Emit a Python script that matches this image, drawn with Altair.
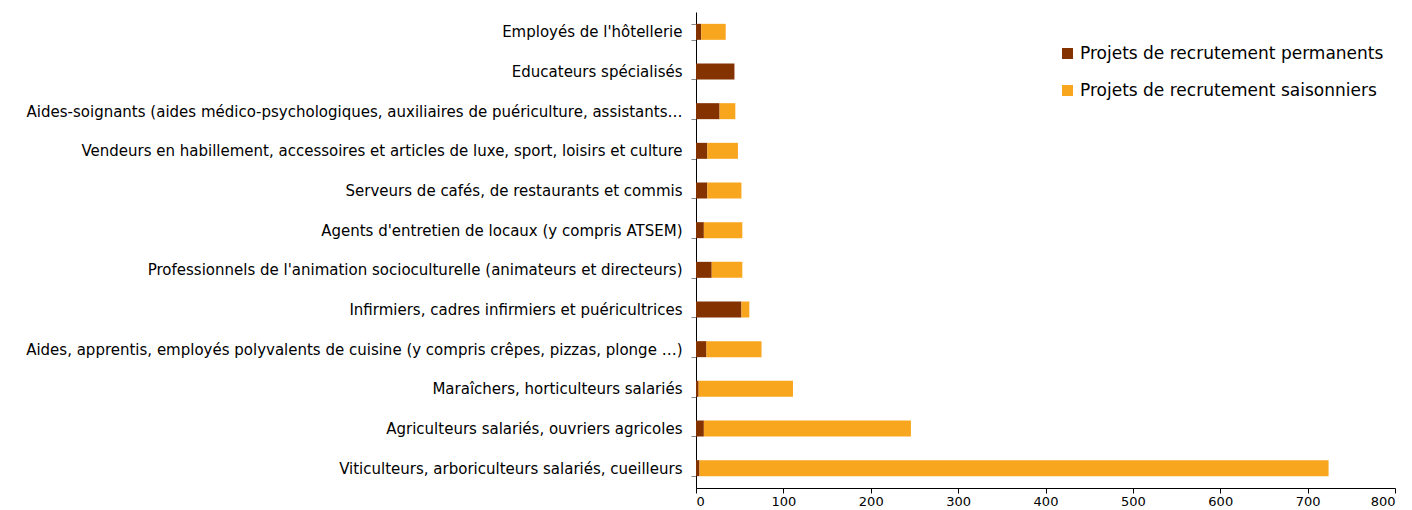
import altair as alt
import pandas as pd

categories = [
    "Employés de l'hôtellerie",
    "Educateurs spécialisés",
    "Aides-soignants (aides médico-psychologiques, auxiliaires de puériculture, assistants…",
    "Vendeurs en habillement, accessoires et articles de luxe, sport, loisirs et culture",
    "Serveurs de cafés, de restaurants et commis",
    "Agents d'entretien de locaux (y compris ATSEM)",
    "Professionnels de l'animation socioculturelle (animateurs et directeurs)",
    "Infirmiers, cadres infirmiers et puéricultrices",
    "Aides, apprentis, employés polyvalents de cuisine (y compris crêpes, pizzas, plonge …)",
    "Maraîchers, horticulteurs salariés",
    "Agriculteurs salariés, ouvriers agricoles",
    "Viticulteurs, arboriculteurs salariés, cueilleurs",
]
permanents = [6, 44, 27, 13, 13, 9, 18, 52, 12, 3, 9, 4]
saisonniers = [28, 0, 18, 35, 39, 44, 35, 9, 63, 108, 237, 720]
series = ["Projets de recrutement permanents", "Projets de recrutement saisonniers"]
colors = ["#843300", "#F9A61F"]

rows = []
for c, p, s in zip(categories, permanents, saisonniers):
    rows.append({"cat": c, "serie": series[0], "val": p, "ord": 0})
    rows.append({"cat": c, "serie": series[1], "val": s, "ord": 1})
df = pd.DataFrame(rows)

FONT = "DejaVu Sans"

chart = alt.Chart(df).mark_bar(size=16).encode(
    y=alt.Y("cat:N", sort=categories, title=None,
            scale=alt.Scale(paddingInner=0.6, paddingOuter=0.3),
            axis=alt.Axis(labelFont=FONT, labelFontSize=15, labelColor="#000",
                          labelLimit=900, labelPadding=9, tickBand="extent", tickColor="#888",
                          tickSize=5, domainColor="#000", grid=False)),
    x=alt.X("val:Q", stack="zero", title=None,
            scale=alt.Scale(domain=[0, 800], nice=False),
            axis=alt.Axis(values=list(range(0, 801, 100)), labelFont=FONT,
                          labelFontSize=13, labelColor="#000", tickColor="#000", tickSize=5,
                          domainColor="#000", grid=False, labelPadding=2)),
    color=alt.Color("serie:N", scale=alt.Scale(domain=series, range=colors), title=None,
                    legend=alt.Legend(orient="none", legendX=363, legendY=33,
                                      labelFont=FONT, labelFontSize=17,
                                      labelColor="#000", symbolType="square", symbolSize=121,
                                      symbolStrokeWidth=0, labelOffset=4,
                                      rowPadding=19, labelLimit=500)),
    order=alt.Order("ord:Q"),
).properties(
    width=699, height=476,
    padding={"left": 25, "top": 5, "right": 16, "bottom": 0},
).configure_view(stroke=None)

chart.save("out.html", embed_options={"renderer": "svg", "actions": False})
